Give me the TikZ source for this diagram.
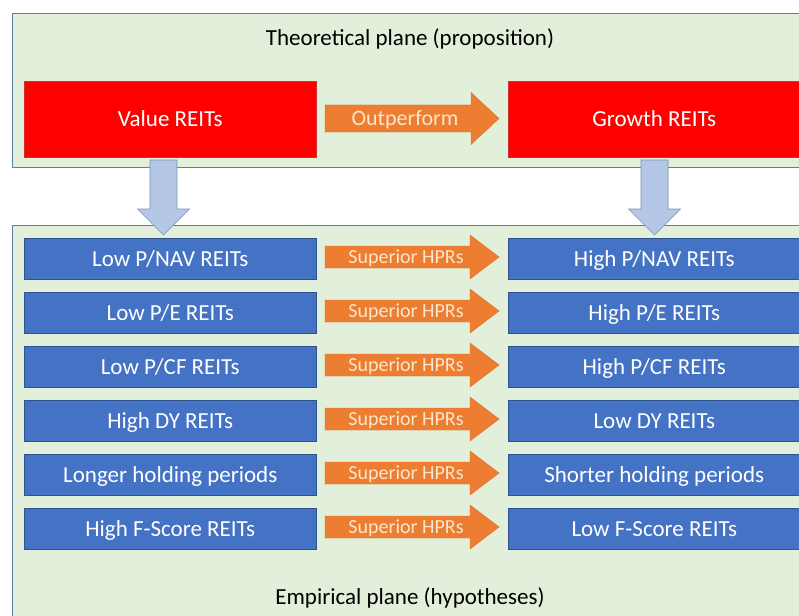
\documentclass[tikz,border=0pt]{standalone}
\usepackage{fontspec}
\setmainfont{Carlito}
\definecolor{panelfill}{HTML}{E2EFDA}
\definecolor{panelline}{HTML}{5B7FA6}
\definecolor{redbox}{HTML}{FF0000}
\definecolor{redline}{HTML}{D03030}
\definecolor{bluebox}{HTML}{4472C4}
\definecolor{blueline}{HTML}{2F528F}
\definecolor{orangefill}{HTML}{ED7D31}
\definecolor{orangeline}{HTML}{D9702A}
\definecolor{arrowtext}{HTML}{FCE6CC}
\definecolor{downfill}{HTML}{B4C7E7}
\definecolor{downline}{HTML}{7F93B0}
\tikzset{
  cap23/.style={text height=14.8pt, text depth=0pt},
  cap22/.style={text height=14.2pt, text depth=0pt},
  cap20/.style={text height=12.9pt, text depth=0pt},
  panel/.style={draw=panelline, line width=0.8pt, fill=panelfill},
  redrect/.style={draw=redline, line width=0.6pt, fill=redbox, text=white, font=\fontsize{23}{27}\selectfont, anchor=north west, inner sep=0pt, minimum height=76pt, cap23},
  bluerect/.style={draw=blueline, line width=0.6pt, fill=bluebox, text=white, font=\fontsize{23}{27}\selectfont, anchor=north west, inner sep=0pt, minimum width=292pt, minimum height=41pt, cap23},
  orshape/.style={fill=orangefill, draw=orangeline, line width=0.4pt},
  ortext/.style={text=arrowtext, inner sep=0pt},
  downshape/.style={fill=downfill, draw=downline, line width=0.6pt},
  titletext/.style={font=\fontsize{23}{27}\selectfont, text=black, inner sep=0pt, cap23}
}
\begin{document}
\begin{tikzpicture}[x=1pt,y=-1pt]
\useasboundingbox (0,0) rectangle (799,615);
\fill[white] (0,0) rectangle (799,615);
% panels
\draw[panel] (805,13) -- (12,13) -- (12,167) -- (805,167);
\draw[panel] (805,225) -- (12,225) -- (12,625) -- (805,625);
\node[titletext] (ttitle) at (410,38) {Theoretical plane (proposition)};
\node[titletext] (etitle) at (410,597) {Empirical plane (hypotheses)};
% top boxes
\node[redrect, minimum width=292pt] (value) at (24,81) {Value REITs};
\node[redrect, minimum width=300pt] (growth) at (508,81) {\hspace*{-8pt}Growth REITs};
% outperform arrow
\draw[orshape] (325,105) -- (471,105) -- (471,92.5) -- (499,118.5) -- (471,144.5) -- (471,132) -- (325,132) -- cycle;
\node[ortext, font=\fontsize{22}{26}\selectfont, cap22] (outp) at (405,118.5) {Outperform};
% down arrows
\foreach \n/\cx in {dl/163.5, dr/654.5}{
  \draw[downshape] (\cx-13.5,160) -- (\cx+13.5,160) -- (\cx+13.5,209) -- (\cx+26,209) -- (\cx,235) -- (\cx-26,209) -- (\cx-13.5,209) -- cycle;
  \coordinate (\n) at (\cx,235);
}
% rows
\foreach \i/\l/\r in {0/{Low P/NAV REITs}/{High P/NAV REITs},
                      1/{Low P/E REITs}/{High P/E REITs},
                      2/{Low P/CF REITs}/{High P/CF REITs},
                      3/{High DY REITs}/{Low DY REITs},
                      4/{Longer holding periods}/{Shorter holding periods},
                      5/{High F-Score REITs}/{Low F-Score REITs}}{
  \pgfmathsetmacro{\yy}{238+54*\i}
  \pgfmathsetmacro{\yc}{\yy+19}
  \node[bluerect] (L\i) at (24,\yy) {\l};
  \node[bluerect, minimum width=300pt] (R\i) at (508,\yy) {\hspace*{-8pt}\r};
  \draw[orshape] (325,\yc-11) -- (470,\yc-11) -- (470,\yc-22) -- (499,\yc) -- (470,\yc+22) -- (470,\yc+11) -- (325,\yc+11) -- cycle;
  \node[ortext, font=\fontsize{20}{24}\selectfont, cap20] (A\i) at (406,\yc) {Superior HPRs};
}
\end{tikzpicture}
\end{document}
